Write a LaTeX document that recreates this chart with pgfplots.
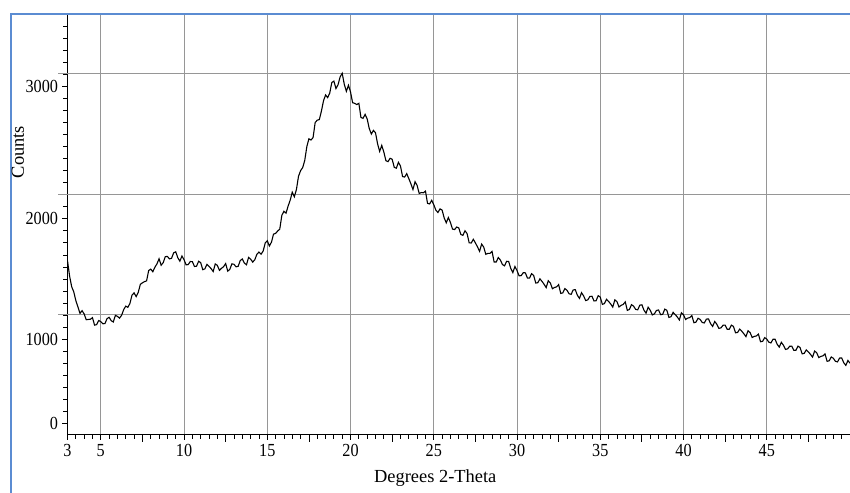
\documentclass[border=0pt]{standalone}
\usepackage{fontspec}
\setmainfont{Liberation Serif}
\newfontfamily\tickfont{Liberation Serif}[FakeStretch=0.88]
\usepackage{pgfplots}
\pgfplotsset{compat=1.18}
\definecolor{frameblue}{RGB}{91,140,210}
\definecolor{gridgray}{RGB}{150,150,150}
\begin{document}
\begin{tikzpicture}
\useasboundingbox (0,0) rectangle (850bp,493bp);
\fill[white] (0,0) rectangle (850bp,493bp);
\draw[frameblue, line width=2.2bp] (11bp,0) -- (11bp,479bp) -- (850bp,479bp);
\begin{axis}[
 at={(67.5bp,58.5bp)}, anchor=south west, scale only axis,
 width=782.5bp, height=419.5bp,
 xmin=3, xmax=50, ymin=0, ymax=3490,
 axis lines=left, axis line style={-, black, line width=0.9bp},
 tick align=outside,
 tick style={black, line width=0.8bp},
 major tick length=5bp, minor tick length=4bp,
 xtick={3,5,10,15,20,25,30,35,40,45},
 xticklabels={3,5,10,15,20,25,30,35,40,45},
 minor xtick={3.5,4,4.5,5.5,6,6.5,7,7.5,8,8.5,9,9.5,10.5,11,11.5,12,12.5,13,13.5,14,14.5,15.5,16,16.5,17,17.5,18,18.5,19,19.5,20.5,21,21.5,22,22.5,23,23.5,24,24.5,25.5,26,26.5,27,27.5,28,28.5,29,29.5,30.5,31,31.5,32,32.5,33,33.5,34,34.5,35.5,36,36.5,37,37.5,38,38.5,39,39.5,40.5,41,41.5,42,42.5,43,43.5,44,44.5,45.5,46,46.5,47,47.5,48,48.5,49,49.5,50},
 ytick={94,794,1794,2894},
 yticklabels={0,1000,2000,3000},
 minor ytick={94,194,...,3394},
 xmajorgrids=true, ymajorgrids=false,
 grid style={gridgray, line width=1bp},
 extra y ticks={1000,2000,3000},
 extra y tick labels={},
 extra y tick style={grid=major, major tick length=9bp, tick style={gridgray, line width=1bp}},
 extra x ticks={7.5,12.5,17.5,22.5,27.5,32.5,37.5,42.5,47.5},
 extra x tick labels={},
 extra x tick style={grid=none, major tick length=7bp},
 /pgf/number format/assume math mode=true,
 ticklabel style={font=\tickfont\fontsize{18.5}{18.5}\selectfont},
 xticklabel style={yshift=-1bp},
 yticklabel style={xshift=-1bp},
 xlabel={Degrees 2-Theta},
 ylabel={Counts},
 label style={font=\fontsize{18.5}{18.5}\selectfont},
 xlabel style={at={(axis description cs:0.47,-0.1037)}, anchor=center},
 ylabel style={at={(axis description cs:-0.0633,0.673)}, anchor=center},
]
\addplot[black, line width=1.1bp] coordinates {
(3.0,1446)(3.125,1319)(3.25,1230)(3.375,1187)(3.5,1115)(3.625,1062)(3.75,1008)(3.875,1030)
(4.0,1003)(4.125,955)(4.25,957)(4.375,959)(4.5,972)(4.625,910)(4.75,914)(4.875,948)
(5.0,939)(5.125,921)(5.25,923)(5.375,964)(5.5,975)(5.625,947)(5.75,936)(5.875,991)
(6.0,983)(6.125,968)(6.25,992)(6.375,1039)(6.5,1068)(6.625,1058)(6.75,1090)(6.875,1160)
(7.0,1178)(7.125,1147)(7.25,1183)(7.375,1249)(7.5,1262)(7.625,1272)(7.75,1278)(7.875,1364)
(8.0,1376)(8.125,1354)(8.25,1392)(8.375,1420)(8.5,1462)(8.625,1408)(8.75,1430)(8.875,1480)
(9.0,1481)(9.125,1461)(9.25,1466)(9.375,1511)(9.5,1520)(9.625,1471)(9.75,1442)(9.875,1485)
(10.0,1454)(10.125,1411)(10.25,1414)(10.375,1439)(10.5,1438)(10.625,1398)(10.75,1400)(10.875,1441)
(11.0,1430)(11.125,1371)(11.25,1378)(11.375,1415)(11.5,1399)(11.625,1380)(11.75,1356)(11.875,1419)
(12.0,1407)(12.125,1366)(12.25,1383)(12.375,1396)(12.5,1422)(12.625,1359)(12.75,1374)(12.875,1420)
(13.0,1416)(13.125,1395)(13.25,1399)(13.375,1447)(13.5,1460)(13.625,1426)(13.75,1412)(13.875,1473)
(14.0,1459)(14.125,1434)(14.25,1454)(14.375,1499)(14.5,1518)(14.625,1500)(14.75,1525)(14.875,1593)
(15.0,1612)(15.125,1568)(15.25,1600)(15.375,1667)(15.5,1673)(15.625,1693)(15.75,1709)(15.875,1824)
(16.0,1857)(16.125,1841)(16.25,1900)(16.375,1949)(16.5,2016)(16.625,1978)(16.75,2038)(16.875,2148)
(17.0,2195)(17.125,2220)(17.25,2280)(17.375,2395)(17.5,2460)(17.625,2450)(17.75,2470)(17.875,2595)
(18.0,2615)(18.125,2620)(18.25,2690)(18.375,2775)(18.5,2825)(18.625,2803)(18.75,2840)(18.875,2928)
(19.0,2940)(19.125,2878)(19.25,2910)(19.375,2975)(19.5,3005)(19.625,2913)(19.75,2855)(19.875,2905)
(20.0,2850)(20.125,2760)(20.25,2755)(20.375,2745)(20.5,2755)(20.625,2638)(20.75,2630)(20.875,2663)
(21.0,2625)(21.125,2545)(21.25,2500)(21.375,2530)(21.5,2510)(21.625,2418)(21.75,2355)(21.875,2405)
(22.0,2350)(22.125,2278)(22.25,2270)(22.375,2298)(22.5,2290)(22.625,2223)(22.75,2215)(22.875,2264)
(23.0,2234)(23.125,2146)(23.25,2142)(23.375,2170)(23.5,2129)(23.625,2086)(23.75,2038)(23.875,2103)
(24.0,2072)(24.125,2005)(24.25,2013)(24.375,2011)(24.5,2025)(24.625,1923)(24.75,1918)(24.875,1948)
(25.0,1912)(25.125,1866)(25.25,1847)(25.375,1877)(25.5,1867)(25.625,1802)(25.75,1761)(25.875,1805)
(26.0,1764)(26.125,1709)(26.25,1705)(26.375,1726)(26.5,1719)(26.625,1664)(26.75,1657)(26.875,1695)
(27.0,1672)(27.125,1595)(27.25,1593)(27.375,1624)(27.5,1594)(27.625,1561)(27.75,1524)(27.875,1584)
(28.0,1559)(28.125,1499)(28.25,1507)(28.375,1507)(28.5,1523)(28.625,1435)(28.75,1435)(28.875,1472)
(29.0,1452)(29.125,1414)(29.25,1403)(29.375,1441)(29.5,1439)(29.625,1381)(29.75,1347)(29.875,1398)
(30.0,1364)(30.125,1320)(30.25,1322)(30.375,1346)(30.5,1345)(30.625,1302)(30.75,1301)(30.875,1338)
(31.0,1323)(31.125,1260)(31.25,1263)(31.375,1295)(31.5,1274)(31.625,1250)(31.75,1222)(31.875,1279)
(32.0,1261)(32.125,1213)(32.25,1223)(32.375,1228)(32.5,1247)(32.625,1174)(32.75,1178)(32.875,1214)
(33.0,1200)(33.125,1171)(33.25,1166)(33.375,1203)(33.5,1205)(33.625,1158)(33.75,1132)(33.875,1180)
(34.0,1153)(34.125,1114)(34.25,1120)(34.375,1148)(34.5,1150)(34.625,1111)(34.75,1113)(34.875,1155)
(35.0,1143)(35.125,1083)(35.25,1089)(35.375,1125)(35.5,1107)(35.625,1086)(35.75,1060)(35.875,1120)
(36.0,1106)(36.125,1061)(36.25,1074)(36.375,1082)(36.5,1103)(36.625,1033)(36.75,1040)(36.875,1080)
(37.0,1068)(37.125,1041)(37.25,1037)(37.375,1076)(37.5,1079)(37.625,1034)(37.75,1009)(37.875,1059)
(38.0,1034)(38.125,995)(38.25,1003)(38.375,1032)(38.5,1036)(38.625,997)(38.75,1000)(38.875,1043)
(39.0,1033)(39.125,974)(39.25,980)(39.375,1016)(39.5,998)(39.625,978)(39.75,953)(39.875,1013)
(40.0,996)(40.125,957)(40.25,968)(40.375,973)(40.5,990)(40.625,930)(40.75,935)(40.875,967)
(41.0,957)(41.125,932)(41.25,928)(41.375,960)(41.5,962)(41.625,922)(41.75,899)(41.875,940)
(42.0,918)(42.125,883)(42.25,887)(42.375,909)(42.5,910)(42.625,875)(42.75,876)(42.875,910)
(43.0,899)(43.125,846)(43.25,849)(43.375,877)(43.5,859)(43.625,838)(43.75,814)(43.875,863)
(44.0,848)(44.125,807)(44.25,816)(44.375,820)(44.5,835)(44.625,772)(44.75,775)(44.875,806)
(45.0,794)(45.125,768)(45.25,762)(45.375,792)(45.5,792)(45.625,751)(45.75,727)(45.875,767)
(46.0,743)(46.125,708)(46.25,712)(46.375,734)(46.5,735)(46.625,700)(46.75,701)(46.875,735)
(47.0,724)(47.125,671)(47.25,675)(47.375,704)(47.5,687)(47.625,667)(47.75,644)(47.875,694)
(48.0,680)(48.125,640)(48.25,650)(48.375,654)(48.5,670)(48.625,609)(48.75,613)(48.875,645)
(49.0,634)(49.125,609)(49.25,604)(49.375,636)(49.5,637)(49.625,597)(49.75,575)(49.875,616)
(50.0,593)
};
\end{axis}
\end{tikzpicture}
\end{document}
